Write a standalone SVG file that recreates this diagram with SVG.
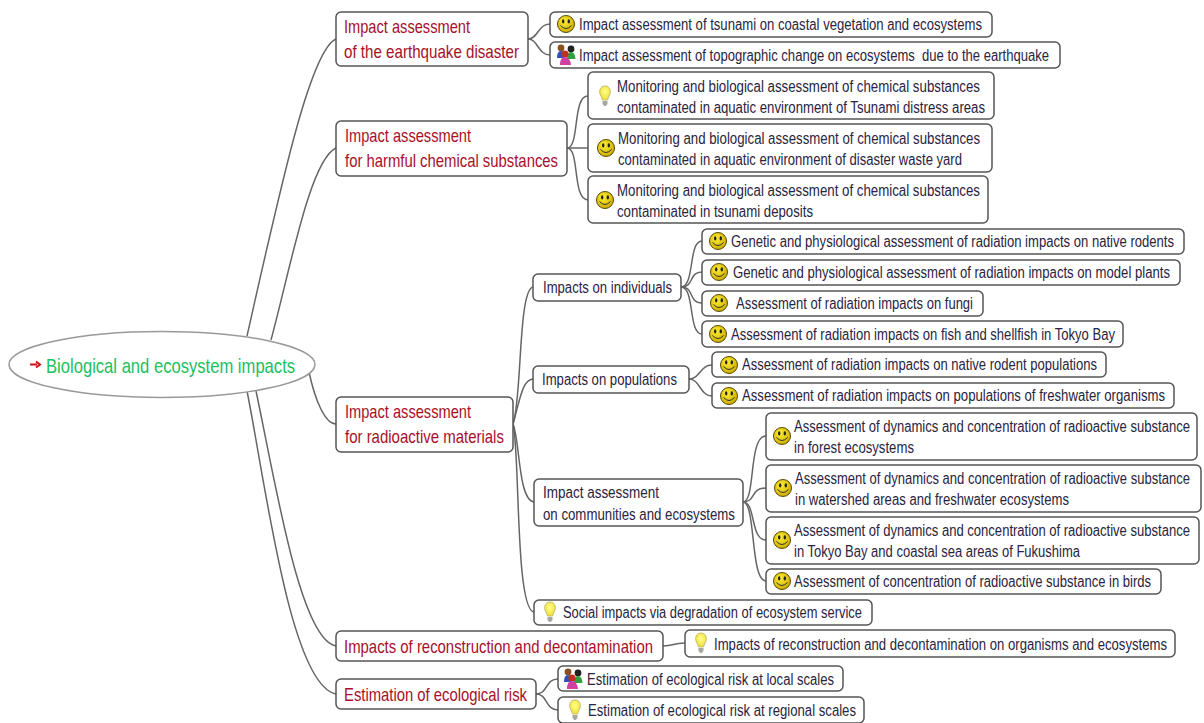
<svg xmlns="http://www.w3.org/2000/svg" width="1204" height="723" viewBox="0 0 1204 723">
<style>
text{font-family:"Liberation Sans",Arial,sans-serif}
.b{fill:#fff;stroke:#555;stroke-width:1.5}
.t1 text{font-size:18px;fill:#a8102a}
.t2 text{font-size:16px;fill:#2a2440}
.c path{fill:none;stroke:#666;stroke-width:1.5}
</style>
<defs>
<radialGradient id="sg" cx="0.4" cy="0.35" r="0.7"><stop offset="0" stop-color="#ffef30"/><stop offset="1" stop-color="#c8a800"/></radialGradient>
<radialGradient id="bg" cx="0.5" cy="0.4" r="0.6"><stop offset="0" stop-color="#ffff90"/><stop offset="1" stop-color="#f0e030"/></radialGradient>
<g id="smile"><circle r="8.5" fill="url(#sg)" stroke="#5a4a00" stroke-width="1"/><ellipse cx="-2.8" cy="-2.6" rx="1.2" ry="2.1" fill="#222"/><ellipse cx="2.8" cy="-2.6" rx="1.2" ry="2.1" fill="#222"/><path d="M-5.5 1.5Q0 7.5 5.5 1.5" fill="none" stroke="#333" stroke-width="1"/></g>
<g id="bulb"><path d="M0-10C-5-10-6-5-5-2C-4 0-3 2-2.5 4H2.5C3 2 4 0 5-2C6-5 5-10 0-10Z" fill="url(#bg)" stroke="#b8b070" stroke-width="0.8"/><path d="M-2.5 5H2.5V8L0.8 10H-0.8L-2.5 8Z" fill="#a8a8a0"/></g>
<g id="people"><circle cx="-5" cy="-7" r="3.4" fill="#8a5020"/><path d="M-9 3Q-9-4-5-4T-1 3Z" fill="#3050c0"/><circle cx="5" cy="-6" r="3.4" fill="#222"/><path d="M1 4Q1-3 5-3T9.5 4Z" fill="#30a040"/><circle cx="-1" cy="-1" r="3.6" fill="#c03020"/><path d="M-6 10Q-6 2-1 2T5 10Z" fill="#d040a0"/></g>
</defs>
<g class="c" id="connectors">
<path d="M247 336C280 190 310 50 336 39"/>
<path d="M271 340C290 270 310 160 336 148"/>
<path d="M309 372C315 400 325 424 336 424"/>
<path d="M256 391C275 480 300 640 336 646"/>
<path d="M247 391C265 480 290 685 336 694"/>
<path d="M528 39C538 39 538 24 550 24"/>
<path d="M528 39C538 39 538 55 550 55"/>
<path d="M567 148C580 148 572 96 588 96"/>
<path d="M567 148H588"/>
<path d="M567 148C580 148 572 200 588 200"/>
<path d="M513 424C522 400 518 290 533 287"/>
<path d="M513 424C520 400 522 380 533 379"/>
<path d="M513 424C520 440 518 500 534 502"/>
<path d="M513 424C520 450 515 610 534 612"/>
<path d="M681 287C695 287 688 241 702 241"/>
<path d="M681 287C695 287 688 272 702 272"/>
<path d="M681 287C695 287 688 303 702 303"/>
<path d="M681 287C695 287 688 334 702 334"/>
<path d="M689 379C700 379 700 365 712 365"/>
<path d="M689 379C700 379 700 396 712 396"/>
<path d="M743 502C756 502 748 436 766 436"/>
<path d="M743 502C756 502 750 488 766 488"/>
<path d="M743 502C756 502 750 540 766 540"/>
<path d="M743 502C756 502 750 581 766 581"/>
<path d="M663 646C675 646 672 643 685 643"/>
<path d="M536 694C548 694 545 679 558 679"/>
<path d="M536 694C548 694 545 710 558 710"/>
</g>
<g id="root"><ellipse cx="162" cy="364.5" rx="153" ry="33" fill="#fff" stroke="#999" stroke-width="1.5"/><path d="M30 364.5H37M36 361.5L40 364.5L36 367.5" fill="none" stroke="#d01010" stroke-width="2"/><text transform="translate(46 373) scale(.85 1)" font-size="21" fill="#20c060" textLength="293" lengthAdjust="spacingAndGlyphs">Biological and ecosystem impacts</text></g>
<g id="a1" class="t1"><rect class="b" x="336" y="12" width="192" height="54" rx="5"/><text transform="translate(344 33) scale(.85 1)" textLength="148.2" lengthAdjust="spacingAndGlyphs">Impact assessment</text><text transform="translate(344 58) scale(.85 1)" textLength="205.9" lengthAdjust="spacingAndGlyphs">of the earthquake disaster</text></g>
<g id="a2" class="t1"><rect class="b" x="336" y="121" width="231" height="55" rx="5"/><text transform="translate(345 142) scale(.85 1)" textLength="148.2" lengthAdjust="spacingAndGlyphs">Impact assessment</text><text transform="translate(345 167) scale(.85 1)" textLength="250.6" lengthAdjust="spacingAndGlyphs">for harmful chemical substances</text></g>
<g id="a3" class="t1"><rect class="b" x="336" y="397" width="177" height="55" rx="5"/><text transform="translate(345 418) scale(.85 1)" textLength="148.2" lengthAdjust="spacingAndGlyphs">Impact assessment</text><text transform="translate(345 443) scale(.85 1)" textLength="187" lengthAdjust="spacingAndGlyphs">for radioactive materials</text></g>
<g id="a4" class="t1"><rect class="b" x="336" y="631" width="327" height="30" rx="5"/><text transform="translate(344 653) scale(.85 1)" textLength="363.5" lengthAdjust="spacingAndGlyphs">Impacts of reconstruction and decontamination</text></g>
<g id="a5" class="t1"><rect class="b" x="336" y="679" width="200" height="30" rx="5"/><text transform="translate(344 701) scale(.85 1)" textLength="215.3" lengthAdjust="spacingAndGlyphs">Estimation of ecological risk</text></g>
<g id="n1" class="t2"><rect class="b" x="550" y="12" width="442" height="25" rx="5"/><use href="#smile" x="566" y="24"/><text transform="translate(579 30) scale(.82 1)" textLength="491.5" lengthAdjust="spacingAndGlyphs">Impact assessment of tsunami on coastal vegetation and ecosystems</text></g>
<g id="n2" class="t2"><rect class="b" x="550" y="42" width="510" height="26" rx="5"/><use href="#people" x="566" y="55"/><text transform="translate(579 61) scale(.82 1)" textLength="573.2" lengthAdjust="spacingAndGlyphs" xml:space="preserve">Impact assessment of topographic change on ecosystems  due to the earthquake</text></g>
<g id="n3" class="t2"><rect class="b" x="588" y="72" width="406" height="47" rx="5"/><use href="#bulb" x="605" y="96"/><text transform="translate(617 92) scale(.82 1)" textLength="442.7" lengthAdjust="spacingAndGlyphs">Monitoring and biological assessment of chemical substances</text><text transform="translate(617 113) scale(.82 1)" textLength="448.8" lengthAdjust="spacingAndGlyphs">contaminated in aquatic environment of Tsunami distress areas</text></g>
<g id="n4" class="t2"><rect class="b" x="588" y="124" width="404" height="48" rx="5"/><use href="#smile" x="606" y="148"/><text transform="translate(618 144) scale(.82 1)" textLength="441.5" lengthAdjust="spacingAndGlyphs">Monitoring and biological assessment of chemical substances</text><text transform="translate(618 165) scale(.82 1)" textLength="419.5" lengthAdjust="spacingAndGlyphs">contaminated in aquatic environment of disaster waste yard</text></g>
<g id="n5" class="t2"><rect class="b" x="588" y="176" width="400" height="47" rx="5"/><use href="#smile" x="605" y="200"/><text transform="translate(617 196) scale(.82 1)" textLength="442.7" lengthAdjust="spacingAndGlyphs">Monitoring and biological assessment of chemical substances</text><text transform="translate(617 217) scale(.82 1)" textLength="239" lengthAdjust="spacingAndGlyphs">contaminated in tsunami deposits</text></g>
<g id="s1" class="t2"><rect class="b" x="533" y="274" width="148" height="27" rx="5"/><text transform="translate(543 293) scale(.82 1)" textLength="157.3" lengthAdjust="spacingAndGlyphs">Impacts on individuals</text></g>
<g id="s2" class="t2"><rect class="b" x="533" y="366" width="156" height="27" rx="5"/><text transform="translate(542 385) scale(.82 1)" textLength="164.6" lengthAdjust="spacingAndGlyphs">Impacts on populations</text></g>
<g id="s3" class="t2"><rect class="b" x="534" y="479" width="209" height="47" rx="5"/><text transform="translate(543 498) scale(.82 1)" textLength="141.5" lengthAdjust="spacingAndGlyphs">Impact assessment</text><text transform="translate(543 520) scale(.82 1)" textLength="234.1" lengthAdjust="spacingAndGlyphs">on communities and ecosystems</text></g>
<g id="s4" class="t2"><rect class="b" x="534" y="600" width="338" height="25" rx="5"/><use href="#bulb" x="550" y="612"/><text transform="translate(563 618) scale(.82 1)" textLength="364.6" lengthAdjust="spacingAndGlyphs">Social impacts via degradation of ecosystem service</text></g>
<g id="n6" class="t2"><rect class="b" x="702" y="229" width="482" height="25" rx="5"/><use href="#smile" x="718" y="241"/><text transform="translate(731 247) scale(.82 1)" textLength="540.2" lengthAdjust="spacingAndGlyphs">Genetic and physiological assessment of radiation impacts on native rodents</text></g>
<g id="n7" class="t2"><rect class="b" x="702" y="260" width="478" height="25" rx="5"/><use href="#smile" x="719" y="272"/><text transform="translate(733 278) scale(.82 1)" textLength="532.9" lengthAdjust="spacingAndGlyphs">Genetic and physiological assessment of radiation impacts on model plants</text></g>
<g id="n8" class="t2"><rect class="b" x="702" y="291" width="281" height="25" rx="5"/><use href="#smile" x="719" y="303"/><text transform="translate(736 309) scale(.82 1)" textLength="289" lengthAdjust="spacingAndGlyphs">Assessment of radiation impacts on fungi</text></g>
<g id="n9" class="t2"><rect class="b" x="702" y="321" width="421" height="26" rx="5"/><use href="#smile" x="718" y="334"/><text transform="translate(731 340) scale(.82 1)" textLength="468.3" lengthAdjust="spacingAndGlyphs">Assessment of radiation impacts on fish and shellfish in Tokyo Bay</text></g>
<g id="n10" class="t2"><rect class="b" x="712" y="352" width="394" height="25" rx="5"/><use href="#smile" x="729" y="365"/><text transform="translate(742 370) scale(.82 1)" textLength="432.9" lengthAdjust="spacingAndGlyphs">Assessment of radiation impacts on native rodent populations</text></g>
<g id="n11" class="t2"><rect class="b" x="712" y="383" width="462" height="25" rx="5"/><use href="#smile" x="729" y="396"/><text transform="translate(742 401) scale(.82 1)" textLength="515.9" lengthAdjust="spacingAndGlyphs">Assessment of radiation impacts on populations of freshwater organisms</text></g>
<g id="n12" class="t2"><rect class="b" x="766" y="413" width="431" height="47" rx="5"/><use href="#smile" x="782" y="436"/><text transform="translate(794 432) scale(.82 1)" textLength="482.9" lengthAdjust="spacingAndGlyphs">Assessment of dynamics and concentration of radioactive substance</text><text transform="translate(794 453) scale(.82 1)" textLength="146.3" lengthAdjust="spacingAndGlyphs">in forest ecosystems</text></g>
<g id="n13" class="t2"><rect class="b" x="766" y="465" width="435" height="47" rx="5"/><use href="#smile" x="783" y="488"/><text transform="translate(795 484) scale(.82 1)" textLength="481.7" lengthAdjust="spacingAndGlyphs">Assessment of dynamics and concentration of radioactive substance</text><text transform="translate(795 505) scale(.82 1)" textLength="334.1" lengthAdjust="spacingAndGlyphs">in watershed areas and freshwater ecosystems</text></g>
<g id="n14" class="t2"><rect class="b" x="766" y="517" width="433" height="47" rx="5"/><use href="#smile" x="782" y="540"/><text transform="translate(794 536) scale(.82 1)" textLength="482.9" lengthAdjust="spacingAndGlyphs">Assessment of dynamics and concentration of radioactive substance</text><text transform="translate(794 557) scale(.82 1)" textLength="348.8" lengthAdjust="spacingAndGlyphs">in Tokyo Bay and coastal sea areas of Fukushima</text></g>
<g id="n15" class="t2"><rect class="b" x="766" y="569" width="395" height="25" rx="5"/><use href="#smile" x="782" y="581"/><text transform="translate(794 587) scale(.82 1)" textLength="435.4" lengthAdjust="spacingAndGlyphs">Assessment of concentration of radioactive substance in birds</text></g>
<g id="n16" class="t2"><rect class="b" x="685" y="630" width="490" height="27" rx="5"/><use href="#bulb" x="701" y="643"/><text transform="translate(714 650) scale(.82 1)" textLength="552.4" lengthAdjust="spacingAndGlyphs">Impacts of reconstruction and decontamination on organisms and ecosystems</text></g>
<g id="n17" class="t2"><rect class="b" x="558" y="666" width="285" height="25" rx="5"/><use href="#people" x="573" y="679"/><text transform="translate(587 685) scale(.82 1)" textLength="301.2" lengthAdjust="spacingAndGlyphs">Estimation of ecological risk at local scales</text></g>
<g id="n18" class="t2"><rect class="b" x="558" y="697" width="306" height="26" rx="5"/><use href="#bulb" x="575" y="710"/><text transform="translate(588 716) scale(.82 1)" textLength="326.8" lengthAdjust="spacingAndGlyphs">Estimation of ecological risk at regional scales</text></g>
</svg>
